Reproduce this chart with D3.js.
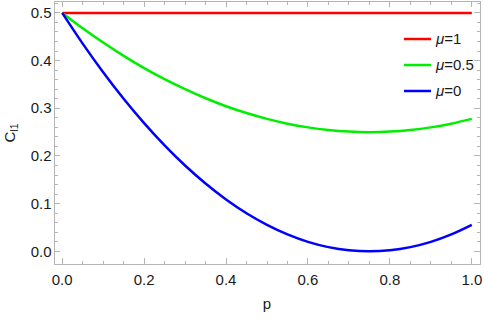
<!DOCTYPE html>
<html><head><meta charset="utf-8">
<script src="https://cdn.jsdelivr.net/npm/d3@7"></script>
<style>body{margin:0;background:#fff}svg{display:block}text{font-family:"Liberation Sans",Arial,sans-serif}</style>
</head><body><svg id="c" width="484" height="321"></svg>
<script>
const pValues = [0,0.05,0.1,0.15,0.2,0.25,0.3,0.35,0.4,0.45,0.5,0.55,0.6,0.65,0.7,0.75,0.8,0.85,0.9,0.95,1.0];
const mu1 = [0.5,0.5,0.5,0.5,0.5,0.5,0.5,0.5,0.5,0.5,0.5,0.5,0.5,0.5,0.5,0.5,0.5,0.5,0.5,0.5,0.5];
const mu05 = [0.5,0.4678,0.4378,0.41,0.3844,0.3611,0.34,0.3211,0.3044,0.29,0.2778,0.2678,0.26,0.2544,0.2511,0.25,0.2511,0.2544,0.26,0.2678,0.2778];
const mu0 = [0.5,0.4356,0.3756,0.32,0.2689,0.2222,0.18,0.1422,0.1089,0.08,0.0556,0.0356,0.02,0.0089,0.0022,0,0.0022,0.0089,0.02,0.0356,0.0556];
const seriesNames = ["\u03bc=1","\u03bc=0.5","\u03bc=0"];
const seriesColors = ["#ff0000","#00ee00","#0000ff"];
const xTicks = [0,0.2,0.4,0.6,0.8,1.0];
const yTicks = [0,0.1,0.2,0.3,0.4,0.5];

const svg = d3.select("#c");
const L=54, R=480, T=1, B=264;
const x = d3.scaleLinear().domain([-0.02,1.02]).range([L,R]);
const y = d3.scaleLinear().domain([-0.0265,0.525]).range([B,T]);
const frame="#b5b5b5";
const fs = 15;

svg.append("rect").attr("x",L).attr("y",T).attr("width",R-L).attr("height",B-T)
  .attr("fill","none").attr("stroke",frame).attr("stroke-width",1).attr("shape-rendering","crispEdges");

const xMinor = d3.range(0,1.0001,0.05);
const yMinor = d3.range(0,0.5201,0.02);
const g = svg.append("g").attr("stroke",frame).attr("stroke-width",1).attr("shape-rendering","crispEdges");
xMinor.forEach(v=>{
  const major = xTicks.some(t=>Math.abs(t-v)<1e-6);
  const len = major?6:3.5;
  g.append("line").attr("x1",x(v)).attr("x2",x(v)).attr("y1",B).attr("y2",B-len);
  g.append("line").attr("x1",x(v)).attr("x2",x(v)).attr("y1",T).attr("y2",T+len);
});
yMinor.forEach(v=>{
  const major = yTicks.some(t=>Math.abs(t-v)<1e-6);
  const len = major?6:3.5;
  g.append("line").attr("y1",y(v)).attr("y2",y(v)).attr("x1",L).attr("x2",L+len);
  g.append("line").attr("y1",y(v)).attr("y2",y(v)).attr("x1",R).attr("x2",R-len);
});

svg.append("g").selectAll("text").data(xTicks).join("text")
  .attr("x",d=>x(d)).attr("y",B+21).attr("text-anchor","middle")
  .attr("font-size",fs).attr("fill","#1a1a1a").text(d=>d.toFixed(1));
svg.append("g").selectAll("text").data(yTicks).join("text")
  .attr("x",L-2.5).attr("y",d=>y(d)+5.2).attr("text-anchor","end")
  .attr("font-size",fs).attr("fill","#1a1a1a").text(d=>d.toFixed(1));

svg.append("text").attr("x",(x(0)+x(1))/2).attr("y",309).attr("text-anchor","middle")
  .attr("font-size",fs).attr("fill","#1a1a1a").text("p");
const yl = svg.append("text").attr("transform","translate(15,133) rotate(-90)").attr("text-anchor","middle")
  .attr("font-size",fs).attr("fill","#1a1a1a");
yl.append("tspan").text("C");
yl.append("tspan").attr("font-size",10.5).attr("dy",3).text("l1");

const line = d3.line().x((d,i)=>x(pValues[i])).y(d=>y(d)).curve(d3.curveMonotoneX);
[mu1,mu05,mu0].forEach((s,k)=>{
  svg.append("path").attr("d",line(s)).attr("fill","none").attr("stroke",seriesColors[k]).attr("stroke-width",2.5);
});

const lg = svg.append("g");
seriesNames.forEach((n,k)=>{
  const yy = 39 + k*26;
  lg.append("line").attr("x1",404).attr("x2",431).attr("y1",yy).attr("y2",yy)
    .attr("stroke",seriesColors[k]).attr("stroke-width",2.5);
  const t = lg.append("text").attr("x",436).attr("y",yy+5).attr("font-size",fs).attr("fill","#1a1a1a");
  t.append("tspan").attr("font-style","italic").text("\u03bc");
  t.append("tspan").text(n.slice(1));
});
</script></body></html>
